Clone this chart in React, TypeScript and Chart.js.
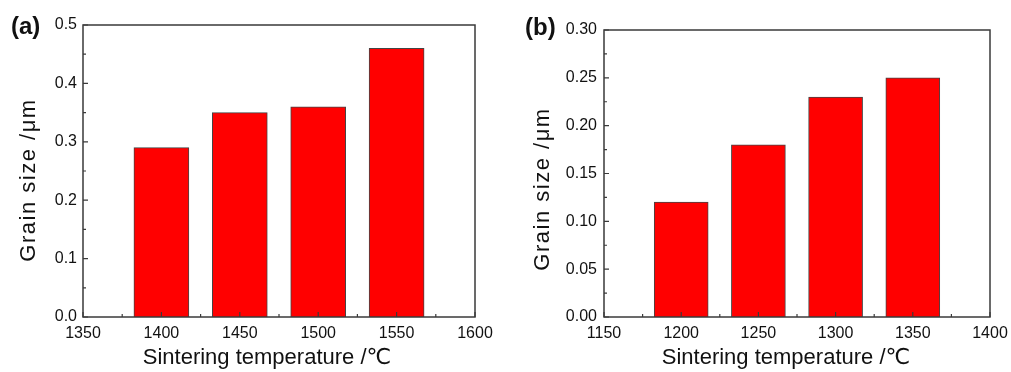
import React, { useEffect, useRef } from "react";
import { Chart, registerables } from "chart.js";

Chart.register(...registerables);

// ---- data ----
const panelLabels = ["(a)", "(b)"];
const tempsA = [1400, 1450, 1500, 1550];
const grainA = [0.29, 0.35, 0.36, 0.46];
const tempsB = [1200, 1250, 1300, 1350];
const grainB = [0.12, 0.18, 0.23, 0.25];
const xRangeA = [1350, 1600, 50];
const yRangeA = [0, 0.5, 0.1];
const xRangeB = [1150, 1400, 50];
const yRangeB = [0, 0.3, 0.05];
const xTitle = "Sintering temperature /℃";
const yTitle = "Grain size /μm";

const FONT = "'Liberation Sans', Arial, 'DejaVu Sans', sans-serif";
const AXIS = "#3a3a3a";
const TEXT = "#111";

type PanelProps = {
  label: string;
  temps: number[];
  values: number[];
  xr: number[];
  yr: number[];
  decimals: number;
  left: number;
  width: number;
  padTop: number;
  padRight: number;
  yAxisWidth: number;
  labelX: number;
  labelY: number;
  yTitleX: number;
  yTitleY: number;
  xTitleShift: number;
  barPx: number;
  yTickPad: number;
};

const framePlugin = {
  id: "frame",
  afterDraw(chart: any, _args: any, opts: any) {
    const { ctx, chartArea: a } = chart;
    const xs = chart.scales.x;
    const ys = chart.scales.y;
    ctx.save();
    ctx.strokeStyle = AXIS;
    ctx.lineWidth = 1.5;
    ctx.strokeRect(a.left, a.top, a.right - a.left, a.bottom - a.top);
    ctx.lineWidth = 1.2;
    const major = 5, minor = 3;
    const xt = xs.ticks.map((t: any) => t.value);
    const yt = ys.ticks.map((t: any) => t.value);
    ctx.beginPath();
    xt.forEach((v: number, i: number) => {
      const p = xs.getPixelForValue(v);
      ctx.moveTo(p, a.bottom);
      ctx.lineTo(p, a.bottom - major);
      if (i < xt.length - 1) {
        const m = xs.getPixelForValue((v + xt[i + 1]) / 2);
        ctx.moveTo(m, a.bottom);
        ctx.lineTo(m, a.bottom - minor);
      }
    });
    yt.forEach((v: number, i: number) => {
      const p = ys.getPixelForValue(v);
      ctx.moveTo(a.left, p);
      ctx.lineTo(a.left + major, p);
      if (i < yt.length - 1) {
        const m = ys.getPixelForValue((v + yt[i + 1]) / 2);
        ctx.moveTo(a.left, m);
        ctx.lineTo(a.left + minor, m);
      }
    });
    ctx.stroke();
    // panel label
    ctx.fillStyle = TEXT;
    ctx.font = `bold 24px ${FONT}`;
    ctx.textBaseline = "middle";
    ctx.textAlign = "left";
    ctx.fillText(opts.label, opts.x, opts.y);
    // x-axis title
    ctx.font = `22px ${FONT}`;
    ctx.textAlign = "center";
    ctx.fillText(opts.xTitle, (a.left + a.right) / 2 + opts.xShift, 357.5);
    // y-axis title
    ctx.translate(opts.tx, opts.ty);
    ctx.rotate(-Math.PI / 2);
    (ctx as any).letterSpacing = "1.5px";
    ctx.fillText(opts.title, 0, 0);
    ctx.restore();
  },
};

function Panel(p: PanelProps) {
  const ref = useRef<HTMLCanvasElement>(null);
  useEffect(() => {
    const chart = new Chart(ref.current as HTMLCanvasElement, {
      type: "bar",
      data: {
        datasets: [
          {
            data: p.temps.map((t, i) => ({ x: t, y: p.values[i] })),
            backgroundColor: "#ff0000",
            borderColor: "#444",
            borderWidth: 1,
            barThickness: p.barPx,
          },
        ],
      },
      options: {
        responsive: false,
        animation: false,
        layout: { padding: { top: p.padTop, right: p.padRight, left: 0, bottom: 0 } },
        plugins: {
          legend: { display: false },
          tooltip: { enabled: false },
          frame: {
            label: p.label,
            x: p.labelX,
            y: p.labelY,
            title: yTitle,
            tx: p.yTitleX,
            ty: p.yTitleY,
            xTitle: xTitle,
            xShift: p.xTitleShift,
          },
        } as any,
        scales: {
          x: {
            type: "linear",
            offset: false,
            min: p.xr[0],
            max: p.xr[1],
            grid: { display: false, offset: false, drawTicks: false },
            border: { display: false },
            ticks: {
              stepSize: p.xr[2],
              padding: 7,
              color: TEXT,
              font: { family: FONT, size: 16 },
              callback: (v: any) => String(v),
            },
            title: { display: false },
            afterFit: (s: any) => {
              s.height = 55;
              s.paddingLeft = 0;
              s.paddingRight = 0;
            },
          },
          y: {
            min: p.yr[0],
            max: p.yr[1],
            grid: { display: false, drawTicks: false },
            border: { display: false },
            ticks: {
              stepSize: p.yr[2],
              padding: p.yTickPad,
              color: TEXT,
              font: { family: FONT, size: 16 },
              callback: (v: any) => Number(v).toFixed(p.decimals),
            },
            title: { display: false },
            afterFit: (s: any) => {
              s.width = p.yAxisWidth;
              s.paddingTop = 0;
              s.paddingBottom = 0;
            },
          },
        },
      },
      plugins: [framePlugin],
    } as any);
    return () => chart.destroy();
  }, []);
  return (
    <canvas
      ref={ref}
      width={p.width}
      height={372}
      style={{ position: "absolute", left: p.left, top: 0, width: p.width, height: 372 }}
    />
  );
}

export default function App() {
  return (
    <div style={{ position: "fixed", left: 0, top: 0, width: 1011, height: 372, background: "#fff" }}>
      <Panel
        label={panelLabels[0]}
        temps={tempsA}
        values={grainA}
        xr={xRangeA}
        yr={yRangeA}
        decimals={1}
        left={0}
        width={505}
        padTop={25}
        padRight={30}
        yAxisWidth={83}
        labelX={11}
        labelY={27}
        yTitleX={29}
        yTitleY={180}
        xTitleShift={-12}
        barPx={55}
        yTickPad={6}
      />
      <Panel
        label={panelLabels[1]}
        temps={tempsB}
        values={grainB}
        xr={xRangeB}
        yr={yRangeB}
        decimals={2}
        left={505}
        width={506}
        padTop={30}
        padRight={21}
        yAxisWidth={99}
        labelX={20}
        labelY={28}
        yTitleX={38}
        yTitleY={189}
        xTitleShift={-11}
        barPx={54}
        yTickPad={7}
      />
    </div>
  );
}
